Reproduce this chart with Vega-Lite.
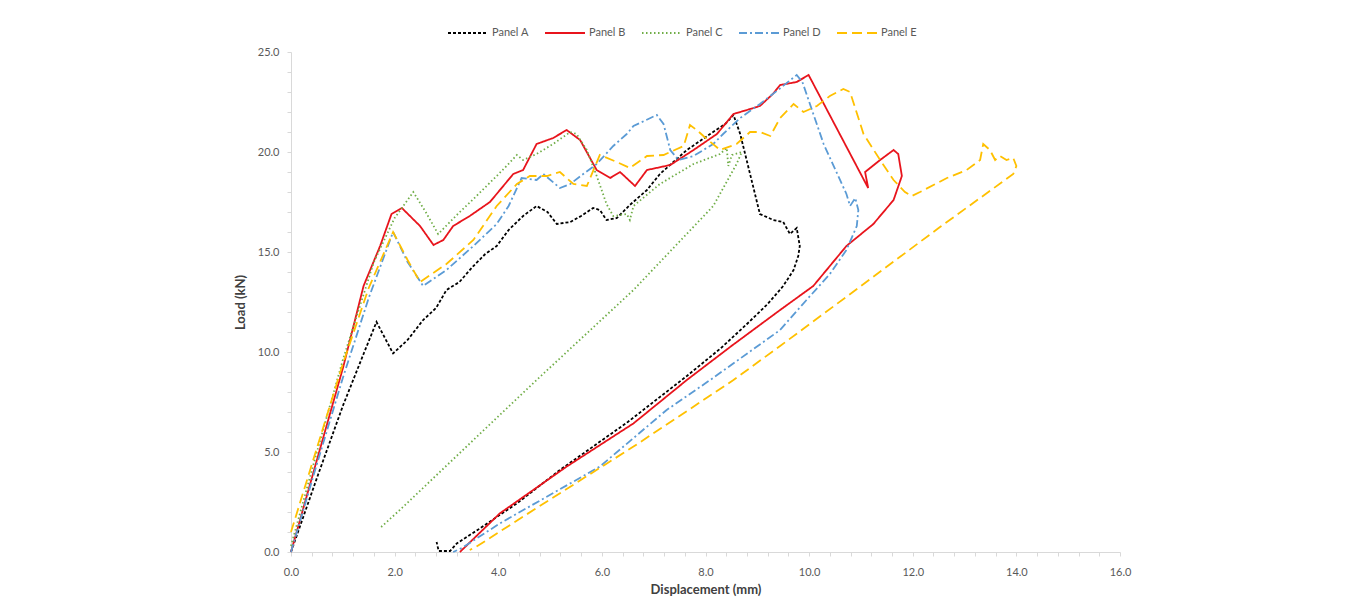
{
  "$schema": "https://vega.github.io/schema/vega-lite/v6.json",
  "width": 829,
  "height": 500,
  "autosize": "none",
  "padding": {"left": 291, "top": 52, "right": 240, "bottom": 54},
  "background": "white",
  "config": {"view": {"stroke": null}, "font": "Lato"},
  "data": {"values": [
    {"panel":"Panel A","i":0,"x":0,"y":0},{"panel":"Panel A","i":1,"x":0.5,"y":3.7},{"panel":"Panel A","i":2,"x":1.0,"y":7.3},{"panel":"Panel A","i":3,"x":1.4,"y":9.9},{"panel":"Panel A","i":4,"x":1.65,"y":11.5},{"panel":"Panel A","i":5,"x":1.97,"y":9.93},{"panel":"Panel A","i":6,"x":2.25,"y":10.6},{"panel":"Panel A","i":7,"x":2.55,"y":11.6},{"panel":"Panel A","i":8,"x":2.8,"y":12.2},{"panel":"Panel A","i":9,"x":3.0,"y":13.1},{"panel":"Panel A","i":10,"x":3.25,"y":13.5},{"panel":"Panel A","i":11,"x":3.52,"y":14.3},{"panel":"Panel A","i":12,"x":3.75,"y":14.9},{"panel":"Panel A","i":13,"x":3.97,"y":15.3},{"panel":"Panel A","i":14,"x":4.2,"y":16.1},{"panel":"Panel A","i":15,"x":4.48,"y":16.8},{"panel":"Panel A","i":16,"x":4.74,"y":17.3},{"panel":"Panel A","i":17,"x":4.95,"y":17.0},{"panel":"Panel A","i":18,"x":5.13,"y":16.4},{"panel":"Panel A","i":19,"x":5.39,"y":16.5},{"panel":"Panel A","i":20,"x":5.6,"y":16.8},{"panel":"Panel A","i":21,"x":5.83,"y":17.2},{"panel":"Panel A","i":22,"x":5.96,"y":17.1},{"panel":"Panel A","i":23,"x":6.09,"y":16.6},{"panel":"Panel A","i":24,"x":6.29,"y":16.7},{"panel":"Panel A","i":25,"x":6.54,"y":17.35},{"panel":"Panel A","i":26,"x":6.87,"y":18.1},{"panel":"Panel A","i":27,"x":7.12,"y":18.9},{"panel":"Panel A","i":28,"x":7.64,"y":20.1},{"panel":"Panel A","i":29,"x":8.09,"y":20.9},{"panel":"Panel A","i":30,"x":8.38,"y":21.4},{"panel":"Panel A","i":31,"x":8.54,"y":21.85},{"panel":"Panel A","i":32,"x":8.67,"y":20.9},{"panel":"Panel A","i":33,"x":8.86,"y":18.9},{"panel":"Panel A","i":34,"x":9.05,"y":16.9},{"panel":"Panel A","i":35,"x":9.31,"y":16.6},{"panel":"Panel A","i":36,"x":9.5,"y":16.5},{"panel":"Panel A","i":37,"x":9.63,"y":15.9},{"panel":"Panel A","i":38,"x":9.76,"y":16.2},{"panel":"Panel A","i":39,"x":9.82,"y":15.3},{"panel":"Panel A","i":40,"x":9.79,"y":14.8},{"panel":"Panel A","i":41,"x":9.7,"y":14.1},{"panel":"Panel A","i":42,"x":9.5,"y":13.3},{"panel":"Panel A","i":43,"x":9.2,"y":12.4},{"panel":"Panel A","i":44,"x":8.8,"y":11.4},{"panel":"Panel A","i":45,"x":8.3,"y":10.2},{"panel":"Panel A","i":46,"x":7.64,"y":8.8},{"panel":"Panel A","i":47,"x":6.5,"y":6.5},{"panel":"Panel A","i":48,"x":5.19,"y":4.1},{"panel":"Panel A","i":49,"x":4.36,"y":2.43},{"panel":"Panel A","i":50,"x":3.6,"y":1.1},{"panel":"Panel A","i":51,"x":3.2,"y":0.43},{"panel":"Panel A","i":52,"x":3.07,"y":0.05},{"panel":"Panel A","i":53,"x":2.85,"y":0.05},{"panel":"Panel A","i":54,"x":2.81,"y":0.5},

    {"panel":"Panel B","i":0,"x":0,"y":0},{"panel":"Panel B","i":1,"x":0.5,"y":4.6},{"panel":"Panel B","i":2,"x":1.01,"y":9.27},{"panel":"Panel B","i":3,"x":1.4,"y":13.3},{"panel":"Panel B","i":4,"x":1.72,"y":15.3},{"panel":"Panel B","i":5,"x":1.94,"y":16.9},{"panel":"Panel B","i":6,"x":2.14,"y":17.2},{"panel":"Panel B","i":7,"x":2.49,"y":16.3},{"panel":"Panel B","i":8,"x":2.75,"y":15.35},{"panel":"Panel B","i":9,"x":2.94,"y":15.6},{"panel":"Panel B","i":10,"x":3.13,"y":16.3},{"panel":"Panel B","i":11,"x":3.45,"y":16.8},{"panel":"Panel B","i":12,"x":3.84,"y":17.5},{"panel":"Panel B","i":13,"x":4.29,"y":18.9},{"panel":"Panel B","i":14,"x":4.48,"y":19.1},{"panel":"Panel B","i":15,"x":4.74,"y":20.4},{"panel":"Panel B","i":16,"x":5.06,"y":20.7},{"panel":"Panel B","i":17,"x":5.32,"y":21.1},{"panel":"Panel B","i":18,"x":5.58,"y":20.6},{"panel":"Panel B","i":19,"x":5.9,"y":19.1},{"panel":"Panel B","i":20,"x":6.16,"y":18.7},{"panel":"Panel B","i":21,"x":6.35,"y":19.0},{"panel":"Panel B","i":22,"x":6.64,"y":18.3},{"panel":"Panel B","i":23,"x":6.87,"y":19.1},{"panel":"Panel B","i":24,"x":7.32,"y":19.35},{"panel":"Panel B","i":25,"x":7.77,"y":20.1},{"panel":"Panel B","i":26,"x":8.22,"y":20.9},{"panel":"Panel B","i":27,"x":8.54,"y":21.9},{"panel":"Panel B","i":28,"x":8.8,"y":22.1},{"panel":"Panel B","i":29,"x":9.05,"y":22.3},{"panel":"Panel B","i":30,"x":9.3,"y":22.9},{"panel":"Panel B","i":31,"x":9.44,"y":23.35},{"panel":"Panel B","i":32,"x":9.76,"y":23.5},{"panel":"Panel B","i":33,"x":9.99,"y":23.85},{"panel":"Panel B","i":34,"x":11.14,"y":18.2},{"panel":"Panel B","i":35,"x":11.08,"y":19.0},{"panel":"Panel B","i":36,"x":11.37,"y":19.6},{"panel":"Panel B","i":37,"x":11.63,"y":20.1},{"panel":"Panel B","i":38,"x":11.72,"y":19.9},{"panel":"Panel B","i":39,"x":11.79,"y":18.8},{"panel":"Panel B","i":40,"x":11.63,"y":17.6},{"panel":"Panel B","i":41,"x":11.24,"y":16.4},{"panel":"Panel B","i":42,"x":10.72,"y":15.3},{"panel":"Panel B","i":43,"x":10.08,"y":13.3},{"panel":"Panel B","i":44,"x":9.44,"y":12.1},{"panel":"Panel B","i":45,"x":8.5,"y":10.3},{"panel":"Panel B","i":46,"x":7.64,"y":8.6},{"panel":"Panel B","i":47,"x":6.61,"y":6.43},{"panel":"Panel B","i":48,"x":5.32,"y":4.27},{"panel":"Panel B","i":49,"x":4.03,"y":1.93},{"panel":"Panel B","i":50,"x":3.26,"y":0},

    {"panel":"Panel C","i":0,"x":0,"y":0.3},{"panel":"Panel C","i":1,"x":0.5,"y":5.0},{"panel":"Panel C","i":2,"x":1.0,"y":9.6},{"panel":"Panel C","i":3,"x":1.6,"y":14.5},{"panel":"Panel C","i":4,"x":2.0,"y":16.7},{"panel":"Panel C","i":5,"x":2.36,"y":18.0},{"panel":"Panel C","i":6,"x":2.6,"y":17.0},{"panel":"Panel C","i":7,"x":2.84,"y":15.9},{"panel":"Panel C","i":8,"x":3.2,"y":16.85},{"panel":"Panel C","i":9,"x":3.58,"y":17.8},{"panel":"Panel C","i":10,"x":3.97,"y":18.8},{"panel":"Panel C","i":11,"x":4.16,"y":19.3},{"panel":"Panel C","i":12,"x":4.36,"y":19.85},{"panel":"Panel C","i":13,"x":4.48,"y":19.6},{"panel":"Panel C","i":14,"x":4.74,"y":19.9},{"panel":"Panel C","i":15,"x":5.06,"y":20.4},{"panel":"Panel C","i":16,"x":5.39,"y":21.0},{"panel":"Panel C","i":17,"x":5.51,"y":20.9},{"panel":"Panel C","i":18,"x":5.71,"y":20.1},{"panel":"Panel C","i":19,"x":5.9,"y":18.8},{"panel":"Panel C","i":20,"x":6.09,"y":17.4},{"panel":"Panel C","i":21,"x":6.22,"y":16.8},{"panel":"Panel C","i":22,"x":6.48,"y":16.9},{"panel":"Panel C","i":23,"x":6.54,"y":16.6},{"panel":"Panel C","i":24,"x":6.61,"y":17.3},{"panel":"Panel C","i":25,"x":7.12,"y":18.4},{"panel":"Panel C","i":26,"x":7.77,"y":19.4},{"panel":"Panel C","i":27,"x":8.28,"y":19.9},{"panel":"Panel C","i":28,"x":8.41,"y":20.2},{"panel":"Panel C","i":29,"x":8.44,"y":19.3},{"panel":"Panel C","i":30,"x":8.51,"y":19.85},{"panel":"Panel C","i":31,"x":8.7,"y":20.0},{"panel":"Panel C","i":32,"x":8.6,"y":19.4},{"panel":"Panel C","i":33,"x":8.15,"y":17.3},{"panel":"Panel C","i":34,"x":6.61,"y":13.1},{"panel":"Panel C","i":35,"x":4.74,"y":8.6},{"panel":"Panel C","i":36,"x":2.1,"y":2.1},{"panel":"Panel C","i":37,"x":1.74,"y":1.25},

    {"panel":"Panel D","i":0,"x":0,"y":0},{"panel":"Panel D","i":1,"x":0.5,"y":4.4},{"panel":"Panel D","i":2,"x":1.0,"y":8.7},{"panel":"Panel D","i":3,"x":1.5,"y":12.7},{"panel":"Panel D","i":4,"x":1.97,"y":16.0},{"panel":"Panel D","i":5,"x":2.25,"y":14.5},{"panel":"Panel D","i":6,"x":2.55,"y":13.3},{"panel":"Panel D","i":7,"x":3.0,"y":14.1},{"panel":"Panel D","i":8,"x":3.52,"y":15.3},{"panel":"Panel D","i":9,"x":3.97,"y":16.4},{"panel":"Panel D","i":10,"x":4.2,"y":17.3},{"panel":"Panel D","i":11,"x":4.45,"y":18.7},{"panel":"Panel D","i":12,"x":4.74,"y":18.6},{"panel":"Panel D","i":13,"x":4.87,"y":18.9},{"panel":"Panel D","i":14,"x":5.19,"y":18.2},{"panel":"Panel D","i":15,"x":5.39,"y":18.4},{"panel":"Panel D","i":16,"x":5.64,"y":18.9},{"panel":"Panel D","i":17,"x":5.9,"y":19.4},{"panel":"Panel D","i":18,"x":6.22,"y":20.3},{"panel":"Panel D","i":19,"x":6.48,"y":20.9},{"panel":"Panel D","i":20,"x":6.61,"y":21.3},{"panel":"Panel D","i":21,"x":7.06,"y":21.85},{"panel":"Panel D","i":22,"x":7.19,"y":21.4},{"panel":"Panel D","i":23,"x":7.32,"y":20.1},{"panel":"Panel D","i":24,"x":7.48,"y":19.6},{"panel":"Panel D","i":25,"x":7.77,"y":19.8},{"panel":"Panel D","i":26,"x":8.15,"y":20.4},{"panel":"Panel D","i":27,"x":8.34,"y":20.9},{"panel":"Panel D","i":28,"x":8.67,"y":21.7},{"panel":"Panel D","i":29,"x":9.05,"y":22.4},{"panel":"Panel D","i":30,"x":9.4,"y":23.1},{"panel":"Panel D","i":31,"x":9.76,"y":23.85},{"panel":"Panel D","i":32,"x":9.87,"y":23.5},{"panel":"Panel D","i":33,"x":10.28,"y":20.4},{"panel":"Panel D","i":34,"x":10.72,"y":17.9},{"panel":"Panel D","i":35,"x":10.79,"y":17.3},{"panel":"Panel D","i":36,"x":10.89,"y":17.7},{"panel":"Panel D","i":37,"x":10.95,"y":17.1},{"panel":"Panel D","i":38,"x":10.92,"y":16.3},{"panel":"Panel D","i":39,"x":10.72,"y":15.1},{"panel":"Panel D","i":40,"x":10.4,"y":13.9},{"panel":"Panel D","i":41,"x":9.95,"y":12.6},{"panel":"Panel D","i":42,"x":9.44,"y":11.1},{"panel":"Panel D","i":43,"x":8.09,"y":8.6},{"panel":"Panel D","i":44,"x":7.25,"y":7.1},{"panel":"Panel D","i":45,"x":5.96,"y":4.27},{"panel":"Panel D","i":46,"x":4.03,"y":1.43},{"panel":"Panel D","i":47,"x":3.3,"y":0.2},{"panel":"Panel D","i":48,"x":3.13,"y":0},

    {"panel":"Panel E","i":0,"x":0,"y":1.0},{"panel":"Panel E","i":1,"x":0.5,"y":5.2},{"panel":"Panel E","i":2,"x":1.0,"y":9.4},{"panel":"Panel E","i":3,"x":1.5,"y":13.2},{"panel":"Panel E","i":4,"x":1.97,"y":16.0},{"panel":"Panel E","i":5,"x":2.25,"y":14.6},{"panel":"Panel E","i":6,"x":2.49,"y":13.5},{"panel":"Panel E","i":7,"x":3.0,"y":14.4},{"panel":"Panel E","i":8,"x":3.52,"y":15.6},{"panel":"Panel E","i":9,"x":3.97,"y":17.3},{"panel":"Panel E","i":10,"x":4.36,"y":18.4},{"panel":"Panel E","i":11,"x":4.61,"y":18.8},{"panel":"Panel E","i":12,"x":4.94,"y":18.8},{"panel":"Panel E","i":13,"x":5.19,"y":19.0},{"panel":"Panel E","i":14,"x":5.45,"y":18.4},{"panel":"Panel E","i":15,"x":5.71,"y":18.3},{"panel":"Panel E","i":16,"x":5.96,"y":19.85},{"panel":"Panel E","i":17,"x":6.29,"y":19.5},{"panel":"Panel E","i":18,"x":6.54,"y":19.2},{"panel":"Panel E","i":19,"x":6.87,"y":19.8},{"panel":"Panel E","i":20,"x":7.19,"y":19.85},{"panel":"Panel E","i":21,"x":7.58,"y":20.3},{"panel":"Panel E","i":22,"x":7.7,"y":21.35},{"panel":"Panel E","i":23,"x":7.83,"y":21.1},{"panel":"Panel E","i":24,"x":7.96,"y":20.8},{"panel":"Panel E","i":25,"x":8.28,"y":20.1},{"panel":"Panel E","i":26,"x":8.6,"y":20.4},{"panel":"Panel E","i":27,"x":8.86,"y":21.0},{"panel":"Panel E","i":28,"x":9.05,"y":21.0},{"panel":"Panel E","i":29,"x":9.25,"y":20.8},{"panel":"Panel E","i":30,"x":9.44,"y":21.7},{"panel":"Panel E","i":31,"x":9.7,"y":22.4},{"panel":"Panel E","i":32,"x":9.89,"y":22.0},{"panel":"Panel E","i":33,"x":10.15,"y":22.3},{"panel":"Panel E","i":34,"x":10.4,"y":22.8},{"panel":"Panel E","i":35,"x":10.66,"y":23.15},{"panel":"Panel E","i":36,"x":10.79,"y":23.0},{"panel":"Panel E","i":37,"x":11.05,"y":20.9},{"panel":"Panel E","i":38,"x":11.37,"y":19.6},{"panel":"Panel E","i":39,"x":11.63,"y":18.6},{"panel":"Panel E","i":40,"x":11.85,"y":18.0},{"panel":"Panel E","i":41,"x":11.98,"y":17.8},{"panel":"Panel E","i":42,"x":12.14,"y":18.0},{"panel":"Panel E","i":43,"x":12.66,"y":18.7},{"panel":"Panel E","i":44,"x":13.04,"y":19.1},{"panel":"Panel E","i":45,"x":13.3,"y":19.6},{"panel":"Panel E","i":46,"x":13.36,"y":20.4},{"panel":"Panel E","i":47,"x":13.49,"y":20.1},{"panel":"Panel E","i":48,"x":13.59,"y":19.6},{"panel":"Panel E","i":49,"x":13.68,"y":19.8},{"panel":"Panel E","i":50,"x":13.81,"y":19.6},{"panel":"Panel E","i":51,"x":13.94,"y":19.7},{"panel":"Panel E","i":52,"x":14.0,"y":19.3},{"panel":"Panel E","i":53,"x":13.94,"y":18.9},{"panel":"Panel E","i":54,"x":12.5,"y":16.2},{"panel":"Panel E","i":55,"x":11.0,"y":13.3},{"panel":"Panel E","i":56,"x":9.44,"y":10.3},{"panel":"Panel E","i":57,"x":8.54,"y":8.6},{"panel":"Panel E","i":58,"x":6.61,"y":5.27},{"panel":"Panel E","i":59,"x":4.68,"y":2.1},{"panel":"Panel E","i":60,"x":3.58,"y":0.27},{"panel":"Panel E","i":61,"x":3.45,"y":0.1}
  ]},
  "mark": {"type": "line", "strokeWidth": 1.8, "interpolate": "linear"},
  "encoding": {
    "x": {
      "field": "x", "type": "quantitative",
      "scale": {"domain": [0, 16], "nice": false},
      "axis": {
        "title": "Displacement (mm)",
        "values": [0,0.4,0.8,1.2,1.6,2,2.4,2.8,3.2,3.6,4,4.4,4.8,5.2,5.6,6,6.4,6.8,7.2,7.6,8,8.4,8.8,9.2,9.6,10,10.4,10.8,11.2,11.6,12,12.4,12.8,13.2,13.6,14,14.4,14.8,15.2,15.6,16],
        "labelExpr": "abs(datum.value/2 - round(datum.value/2)) < 0.01 ? format(datum.value, '.1f') : ''",
        "labelOverlap": false, "labelFlush": false,
        "grid": false, "domainColor": "#d9d9d9", "tickColor": "#d9d9d9", "tickSize": 4,
        "labelColor": "#595959", "labelFontSize": 11, "labelPadding": 10,
        "titleFontSize": 13, "titleFontWeight": "bold", "titleColor": "#404040", "titlePadding": 6
      }
    },
    "y": {
      "field": "y", "type": "quantitative",
      "scale": {"domain": [0, 25], "nice": false},
      "axis": {
        "title": "Load (kN)",
        "values": [0,1,2,3,4,5,6,7,8,9,10,11,12,13,14,15,16,17,18,19,20,21,22,23,24,25],
        "labelExpr": "datum.value % 5 == 0 ? format(datum.value, '.1f') : ''",
        "labelOverlap": false,
        "grid": false, "domainColor": "#d9d9d9", "tickColor": "#d9d9d9", "tickSize": 4,
        "labelColor": "#595959", "labelFontSize": 11, "labelPadding": 8,
        "titleFontSize": 13, "titleFontWeight": "bold", "titleColor": "#404040", "titlePadding": 10
      }
    },
    "color": {
      "field": "panel", "type": "nominal",
      "scale": {"domain": ["Panel A","Panel B","Panel C","Panel D","Panel E"], "range": ["#000000","#e8141c","#70ad47","#5b9bd5","#ffc000"]},
      "legend": {
        "title": null, "orient": "none", "direction": "horizontal",
        "legendX": 156, "legendY": -40,
        "symbolType": "stroke", "symbolSize": 1600, "symbolStrokeWidth": 2,
        "labelFontSize": 11, "labelColor": "#595959", "labelOffset": 3, "columnPadding": 12
      }
    },
    "strokeDash": {
      "field": "panel", "type": "nominal",
      "scale": {"domain": ["Panel A","Panel B","Panel C","Panel D","Panel E"], "range": [[3,2],[1,0],[1.5,2.5],[8,3,2,3],[10,5]]},
      "legend": {
        "title": null, "orient": "none", "direction": "horizontal",
        "legendX": 156, "legendY": -40,
        "symbolType": "stroke", "symbolSize": 1600, "symbolStrokeWidth": 2,
        "labelFontSize": 11, "labelColor": "#595959", "labelOffset": 3, "columnPadding": 12
      }
    },
    "order": {"field": "i", "type": "quantitative"}
  }
}
